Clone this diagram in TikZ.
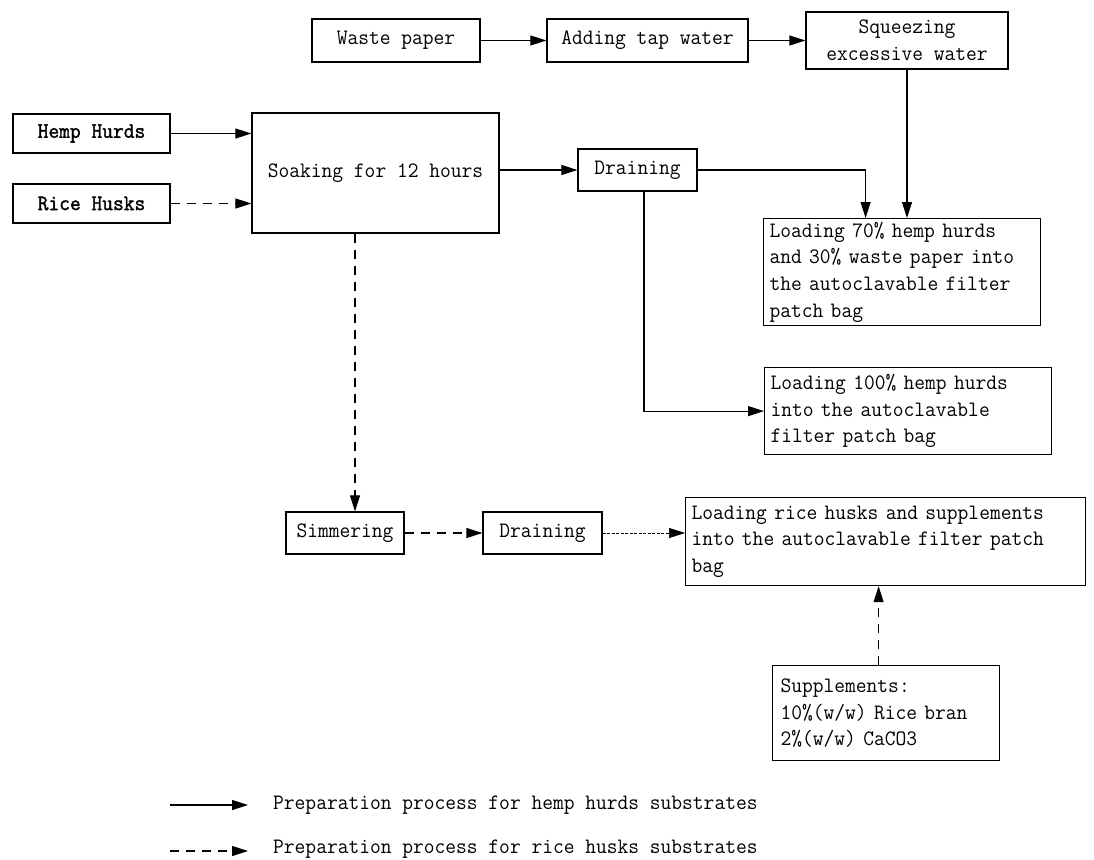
\documentclass[tikz,border=0pt]{standalone}
\usepackage{fontspec}
\setmonofont[FakeStretch=0.95]{Latin Modern Mono}
\newfontfamily\hempfont[FakeStretch=0.95,FakeBold=1.6]{Latin Modern Mono}
\usetikzlibrary{arrows.meta,positioning}
\newcommand\flowfont{\fontsize{22}{26.7}\selectfont\ttfamily}

\begin{document}
\begin{tikzpicture}[
  x=1pt, y=-1pt,
  font=\flowfont,
  box/.style={draw, line width=1.2pt, inner sep=0pt, align=center},
  tbox/.style={draw, line width=1.2pt, inner xsep=6pt, inner ysep=0pt, align=left, anchor=north west},
  line/.style={draw, line width=1.1pt, -{Triangle[length=16pt,width=10pt]}},
  dline/.style={line, dash pattern=on 9pt off 7pt},
  fline/.style={line, line width=0.7pt, dash pattern=on 3pt off 1.5pt}
]
\useasboundingbox (0,0) rectangle (1094,859);

% waste paper branch
\node[box, minimum width=168pt, minimum height=43pt] (waste) at (396,40.5) {Waste paper};
\node[box, minimum width=201pt, minimum height=43pt] (tap) at (647.5,40.5) {Adding tap water};
\node[box, minimum width=202pt, minimum height=57pt] (squeeze) at (907,40.5) {Squeezing\\excessive water};

% raw materials
\node[box, minimum width=157pt, minimum height=39pt, font=\flowfont\hempfont] (hemp) at (91.5,133.5) {Hemp Hurds};
\node[box, minimum width=157pt, minimum height=39pt, font=\flowfont\hempfont] (rice) at (91.5,203.5) {Rice Husks};
\node[box, minimum width=247pt, minimum height=120pt] (soak) at (375.5,173) {Soaking for 12 hours};
\node[box, minimum width=119pt, minimum height=42pt] (drain1) at (637.5,170) {Draining};

% bags
\node[tbox, text width=265pt, minimum height=107pt] (load70) at (763,218)
  {Loading 70\% hemp hurds\\and 30\% waste paper into\\the autoclavable filter\\patch bag};
\node[tbox, text width=275pt, minimum height=87pt] (load100) at (764,367)
  {Loading 100\% hemp hurds\\into the autoclavable\\filter patch bag};

% rice husks branch
\node[box, minimum width=118pt, minimum height=42pt] (simmer) at (345,533) {Simmering};
\node[box, minimum width=119pt, minimum height=42pt] (drain2) at (542.5,533) {Draining};
\node[tbox, text width=388pt, minimum height=88pt] (loadrice) at (685,497)
  {Loading rice husks and supplements\\into the autoclavable filter patch\\bag};
\node[tbox, inner xsep=8pt, text width=211pt, minimum height=95pt] (supp) at (772,665)
  {Supplements:\\10\%(w/w) Rice bran\\2\%(w/w) CaCO3};

\draw[line] (waste) -- (tap);
\draw[line] (tap) -- (squeeze);
\draw[line] (squeeze.south) -- (squeeze.south |- load70.north);
\draw[line] (hemp) -- (hemp -| soak.west);
\draw[dline] (rice) -- (rice -| soak.west);
\draw[line] (soak.east |- drain1.west) -- (drain1.west);
\draw[line] (drain1.east) -| ([xshift=-36.5pt]load70.north);
\draw[line] ([xshift=6.5pt]drain1.south) |- (load100.west);
\draw[dline] ([xshift=10pt]simmer.north |- soak.south) -- ([xshift=10pt]simmer.north);
\draw[dline] (simmer) -- (drain2);
\draw[fline] (drain2) -- (drain2 -| loadrice.west);
\draw[dline] ([xshift=-7.5pt]supp.north) -- ([xshift=-7.5pt]supp.north |- loadrice.south);

% legend
\coordinate (lgsa) at (170,805);
\coordinate (lgsb) at (248,805);
\coordinate (lgda) at (170,851);
\coordinate (lgdb) at (248,851);
\draw[line] (lgsa) -- (lgsb);
\draw[dline] (lgda) -- (lgdb);
\node[anchor=base west, inner sep=0pt] (lgs) at (273,809) {Preparation process for hemp hurds substrates};
\node[anchor=base west, inner sep=0pt] (lgd) at (273,853.5) {Preparation process for rice husks substrates};

\end{tikzpicture}
\end{document}
